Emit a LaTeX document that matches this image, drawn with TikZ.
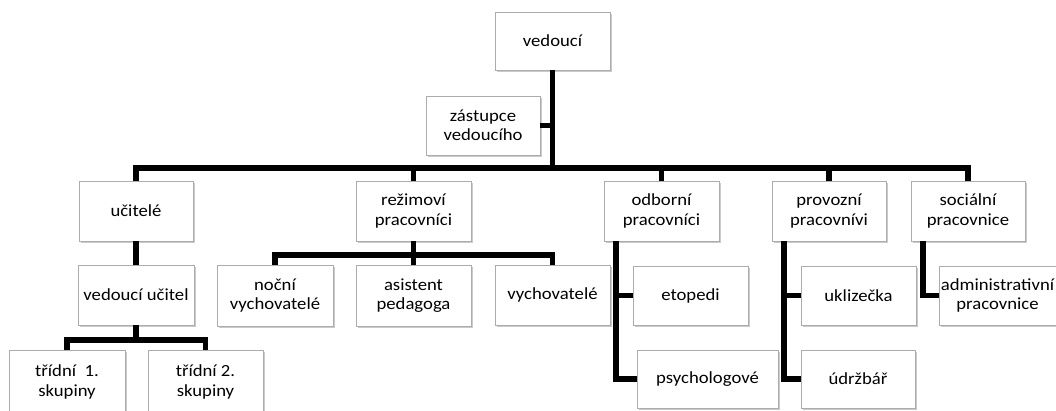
\documentclass[tikz,border=0pt]{standalone}
\usepackage{fontspec}
\setmainfont{Carlito}[FakeStretch=1.1]
\usetikzlibrary{shadows}
\tikzset{
  box/.style={draw=gray!65, line width=0.6pt, fill=white, align=center, inner sep=1pt,
    minimum height=59pt,
    font=\fontsize{17}{19.5}\selectfont,
    drop shadow={shadow xshift=1.6pt, shadow yshift=-1.6pt, fill=gray!70, opacity=0.6}},
  conn/.style={line width=5.5pt, draw=black, line join=miter}
}
\begin{document}
\begin{tikzpicture}[x=1pt,y=-1pt]
\useasboundingbox (0,0) rectangle (1056,410);
\clip (0,0) rectangle (1056,410);
% level 0/1
\node[box, minimum width=115pt, minimum height=58pt] (ved) at (552.5,41) {vedoucí};
\node[box, minimum width=114pt] (zas) at (483,125.5) {zástupce\\vedoucího};
% level 2
\node[box, minimum width=114pt, minimum height=60pt] (uc) at (136,211) {učitelé};
\node[box, minimum width=115pt, minimum height=60pt] (rez) at (413.5,211) {režimoví\\pracovníci};
\node[box, minimum width=115pt, minimum height=60pt] (odb) at (661.5,211) {odborní\\pracovníci};
\node[box, minimum width=114pt, minimum height=60pt] (pro) at (829,211) {provozní\\pracovnívi};
\node[box, minimum width=114pt, minimum height=60pt] (soc) at (968,211) {sociální\\pracovnice};
% level 3
\node[box, minimum width=116pt, minimum height=60pt] (vu) at (136,295) {vedoucí učitel};
\node[box, minimum width=116pt, minimum height=61pt] (noc) at (275,295.5) {noční\\vychovatelé};
\node[box, minimum width=115pt, minimum height=61pt] (asi) at (413.5,295.5) {asistent\\pedagoga};
\node[box, minimum width=115pt, minimum height=60pt] (vych) at (552.5,295) {vychovatelé};
\node[box, minimum width=115pt] (eto) at (690.5,295.5) {etopedi};
\node[box, minimum width=115pt] (ukl) at (858.5,295.5) {uklizečka};
\node[box, minimum width=117pt] (adm) at (997.5,295.5) {administrativní\\pracovnice};
% level 4
\node[box, minimum width=116pt, minimum height=64pt] (t1) at (67,382) {třídní\ \ 1.\\skupiny};
\node[box, minimum width=115pt, minimum height=64pt] (t2) at (205.5,382) {třídní 2.\\skupiny};
\node[box, minimum width=141pt, minimum height=58pt] (psy) at (707.5,379) {psychologové};
\node[box, minimum width=114pt, minimum height=58pt] (udr) at (858,379) {údržbář};
% connectors
\coordinate (topbar) at (552.5,168);
\draw[conn] (ved.south) -- (topbar);
\draw[conn] (zas.east) -- (zas.east -| ved.south);
\draw[conn] (uc.north) |- (topbar) -| (soc.north);
\draw[conn] (rez.north) -- (rez.north |- topbar);
\draw[conn] (odb.north) -- (odb.north |- topbar);
\draw[conn] (pro.north) -- (pro.north |- topbar);
\draw[conn] (uc.south) -- (vu.north);
\coordinate (vubar) at (136,340);
\draw[conn] (vu.south) -- (vubar);
\draw[conn] (t1.north) |- (vubar) -| (t2.north);
\coordinate (rezbar) at (413.5,255);
\draw[conn] (rez.south) -- (asi.north);
\draw[conn] (noc.north) |- (rezbar) -| (vych.north);
\draw[conn] ([xshift=-45.5pt]odb.south) |- (psy.west);
\draw[conn] (eto.west) -- ++(-17,0);
\draw[conn] ([xshift=-45pt]pro.south) |- (udr.west);
\draw[conn] (ukl.west) -- ++(-17,0);
\draw[conn] ([xshift=-45pt]soc.south) |- (adm.west);
\end{tikzpicture}
\end{document}
